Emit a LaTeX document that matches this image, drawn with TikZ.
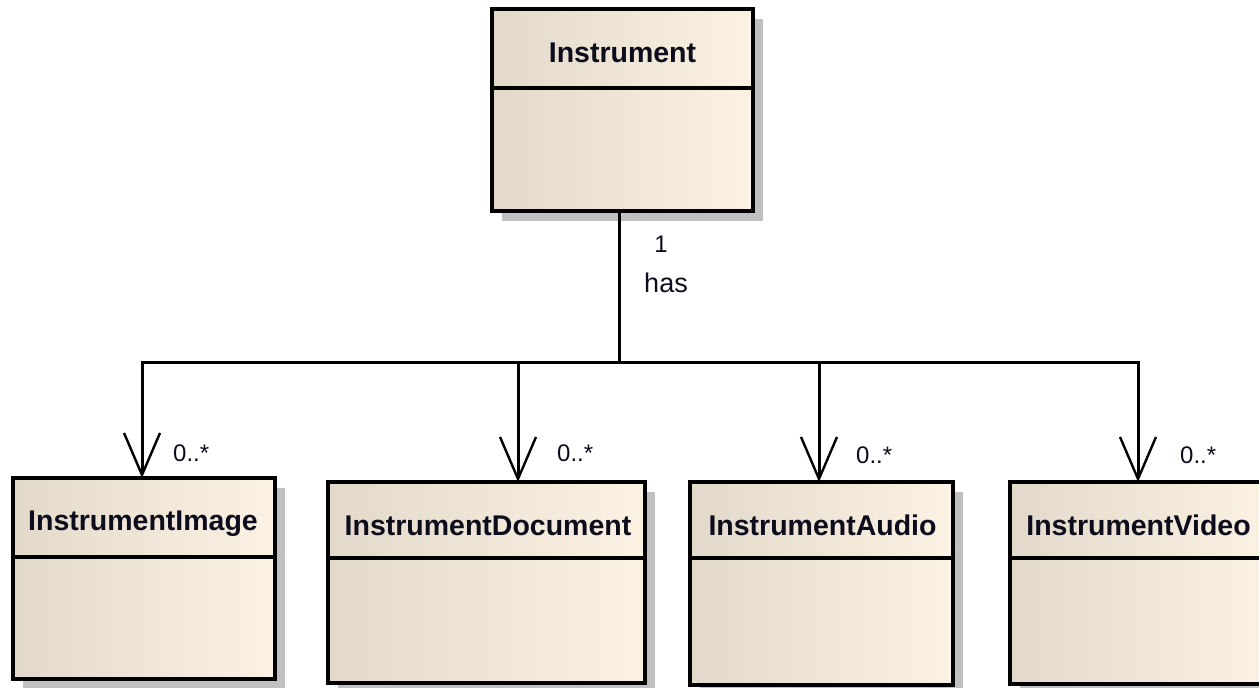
\documentclass[tikz,border=0pt]{standalone}
\usepackage{fontspec}
\setmainfont{Liberation Sans}
\usetikzlibrary{arrows.meta,shadows}
\definecolor{boxL}{RGB}{226,217,203}
\definecolor{boxR}{RGB}{251,242,228}
\definecolor{shadowgray}{RGB}{192,192,192}
\definecolor{txt}{RGB}{12,12,28}
\begin{document}
\begin{tikzpicture}[x=1pt,y=-1pt,
  classbox/.style={draw=black, line width=3.2pt, left color=boxL, right color=boxR,
    general shadow={fill=shadowgray, shadow xshift=10pt, shadow yshift=-10pt},
    inner sep=0pt, outer sep=0pt},
  headbox/.style={draw=black, line width=3.2pt, left color=boxL, right color=boxR,
    inner sep=0pt, outer sep=0pt, anchor=north},
  classname/.style={font=\bfseries\fontsize{28.5}{30}\selectfont, text=txt, anchor=base, inner sep=0pt},
  mult/.style={font=\fontsize{24}{26}\selectfont, text=txt, anchor=base west, inner sep=0pt},
  conn/.style={draw=black, line width=3pt},
  arr/.style={conn, -{Straight Barb[length=42pt, width=36pt, line width=2.4pt]}}
]
\useasboundingbox (0,0) rectangle (1259,688);
\clip (0,0) rectangle (1259,688);
\fill[white] (0,0) rectangle (1259,688);

% Instrument
\node[classbox, minimum width=261pt, minimum height=202pt] (inst) at (622.5,110) {};
\node[headbox, minimum width=261pt, minimum height=79pt] (insth) at (inst.north) {};
\node[classname] (instt) at (622.5,62) {Instrument};

% InstrumentImage
\node[classbox, minimum width=262pt, minimum height=201pt] (img) at (144,578.5) {};
\node[headbox, minimum width=262pt, minimum height=79pt] (imgh) at (img.north) {};
\node[classname] (imgt) at (143,530) {InstrumentImage};

% InstrumentDocument
\node[classbox, minimum width=317pt, minimum height=201pt] (doc) at (486.5,582.5) {};
\node[headbox, minimum width=317pt, minimum height=76pt] (doch) at (doc.north) {};
\node[classname] (doct) at (488,535) {InstrumentDocument};

% InstrumentAudio
\node[classbox, minimum width=263pt, minimum height=203pt] (aud) at (821.5,583.5) {};
\node[headbox, minimum width=263pt, minimum height=76pt] (audh) at (aud.north) {};
\node[classname] (audt) at (822.5,535) {InstrumentAudio};

% InstrumentVideo
\node[classbox, minimum width=257pt, minimum height=202pt] (vid) at (1138.5,583) {};
\node[headbox, minimum width=257pt, minimum height=76pt] (vidh) at (vid.north) {};
\node[classname] (vidt) at (1138.5,535) {InstrumentVideo};

% connectors
\coordinate (hub) at (619,362);
\coordinate (j1) at (142,362);
\coordinate (j2) at (518,362);
\coordinate (j3) at (819,362);
\coordinate (j4) at (1138,362);
\draw[conn] (inst.south -| hub) -- (hub);
\draw[conn, line cap=rect] (j1) -- (j4);
\draw[arr] (j1) -- (j1 |- img.north);
\draw[arr] (j2) -- (j2 |- doc.north);
\draw[arr] (j3) -- (j3 |- aud.north);
\draw[arr] (j4) -- (j4 |- vid.north);

% labels
\node[font=\fontsize{24}{26}\selectfont, text=txt, anchor=base, inner sep=0pt] (one) at (661,252) {1};
\node[font=\fontsize{27}{29}\selectfont, text=txt, anchor=base, inner sep=0pt] (has) at (666,292) {has};
\node[mult] (m1) at (173,461) {0..*};
\node[mult] (m2) at (557,461) {0..*};
\node[mult] (m3) at (856,463) {0..*};
\node[mult] (m4) at (1180,463) {0..*};
\end{tikzpicture}
\end{document}
